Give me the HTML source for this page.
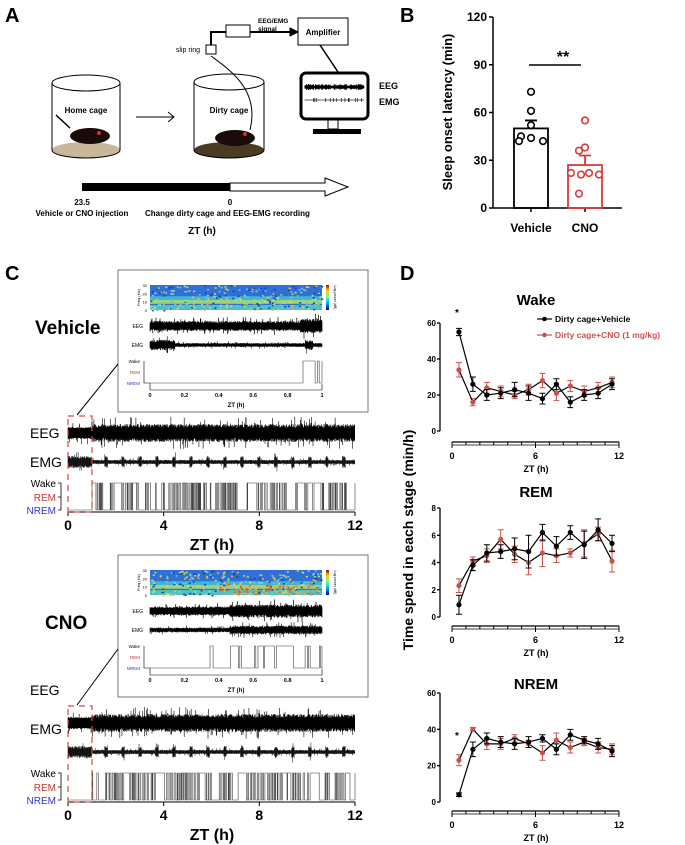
<!DOCTYPE html>
<html><head><meta charset="utf-8"><style>
body{margin:0;background:#fff}
svg{display:block;font-family:"Liberation Sans",Arial,sans-serif}
</style></head><body>
<svg id="fig" width="685" height="845" viewBox="0 0 685 845">
<!-- Panel A -->
<g>
<text x="5" y="22" font-size="20" font-weight="bold">A</text>
<g fill="none" stroke="#000" stroke-width="1">
<ellipse cx="86" cy="150" rx="34" ry="8" fill="#c9b79a" stroke="none"/>
<ellipse cx="86" cy="83" rx="34" ry="8"/>
<line x1="52" y1="83" x2="52" y2="150"/><line x1="120" y1="83" x2="120" y2="150"/>
<path d="M52 150 A34 8 0 0 0 120 150"/>
<ellipse cx="90" cy="136" rx="20" ry="8" fill="#1a0a0a" stroke="none"/>
<circle cx="99" cy="133" r="2" fill="#c33" stroke="none"/>
<line x1="56" y1="115" x2="70" y2="128" stroke-width="1.5"/>
</g>
<text x="86" y="113" font-size="8" font-weight="bold" text-anchor="middle">Home cage</text>
<path d="M136 117 H174 M168 112 L174 117 L168 122" fill="none" stroke="#000"/>
<g fill="none" stroke="#000" stroke-width="1">
<ellipse cx="229" cy="150" rx="35" ry="8" fill="#4a3b22" stroke="none"/>
<ellipse cx="229" cy="82" rx="35" ry="8"/>
<line x1="194" y1="82" x2="194" y2="150"/><line x1="264" y1="82" x2="264" y2="150"/>
<path d="M194 150 A35 8 0 0 0 264 150"/>
<ellipse cx="235" cy="138" rx="20" ry="8" fill="#1a0a0a" stroke="none"/>
<circle cx="245" cy="134" r="2" fill="#c33" stroke="none"/>
<path d="M211 56 C230 70 260 90 250 130"/>
<rect x="206" y="45" width="10" height="9"/>
<path d="M211 45 V32 H290" stroke-width="2"/>
<path d="M290 28 L298 32 L290 36 Z" fill="#000"/>
<rect x="226" y="25" width="24" height="12" fill="#fff"/>
</g>
<text x="200" y="52" font-size="7" text-anchor="end">slip ring</text>
<text x="258" y="23" font-size="6.5" font-weight="bold">EEG/EMG</text>
<text x="258" y="31" font-size="6.5" font-weight="bold">signal</text>
<text x="229" y="113" font-size="8" font-weight="bold" text-anchor="middle">Dirty cage</text>
<rect x="298" y="18" width="50" height="27" fill="#fff" stroke="#000"/>
<text x="323" y="35" font-size="8" font-weight="bold" text-anchor="middle">Amplifier</text>
<path d="M320 45 L338 72" stroke="#000" stroke-width="1.5" fill="none"/>
<rect x="301" y="73" width="67" height="46" rx="5" fill="#fff" stroke="#000" stroke-width="3"/>
<rect x="328" y="119" width="10" height="10" fill="none" stroke="#000"/>
<rect x="313" y="129" width="48" height="5" fill="#000"/>
<path id="monEEG" d="" stroke="#000" stroke-width="1" fill="none"/>
<path id="monEMG" d="" stroke="#000" stroke-width="0.6" fill="none"/>
<text x="379" y="89" font-size="9" font-weight="bold">EEG</text>
<text x="379" y="105" font-size="9" font-weight="bold">EMG</text>
<rect x="82" y="183" width="148" height="8" fill="#000"/>
<path d="M230 183 H325 V178 L348 187 L325 196 V191 H230 Z" fill="#fff" stroke="#000"/>
<text x="82" y="205" font-size="8" font-weight="bold" text-anchor="middle">23.5</text>
<text x="230" y="205" font-size="8" font-weight="bold" text-anchor="middle">0</text>
<text x="82" y="216" font-size="8" font-weight="bold" text-anchor="middle">Vehicle or CNO injection</text>
<text x="145" y="216" font-size="8" font-weight="bold">Change dirty cage and EEG-EMG recording</text>
<text x="202" y="234" font-size="10" font-weight="bold" text-anchor="middle">ZT (h)</text>
</g>
<!-- Panel B -->
<g id="panelB">
<text x="400" y="22" font-size="20" font-weight="bold">B</text>
<text transform="translate(452,112) rotate(-90)" font-size="13" font-weight="bold" text-anchor="middle">Sleep onset latency (min)</text>
<text x="563" y="62" font-size="16" font-weight="bold" text-anchor="middle">**</text>
<line x1="529" y1="65" x2="581" y2="65" stroke="#000" stroke-width="1.5"/>
<text x="531" y="232" font-size="12" font-weight="bold" text-anchor="middle">Vehicle</text>
<text x="585" y="232" font-size="12" font-weight="bold" text-anchor="middle">CNO</text>
</g>
<!-- Panel C -->
<g id="panelC">
<text x="5" y="280" font-size="20" font-weight="bold">C</text>
</g>
<!-- Panel D -->
<g id="panelD">
<text x="400" y="280" font-size="20" font-weight="bold">D</text>
<text transform="translate(413,540) rotate(-90)" font-size="14" font-weight="bold" text-anchor="middle">Time spend in each stage (min/h)</text>
</g>
</svg>
<script>
// Panel B data
const bGroups = ["Vehicle","CNO"];
const bMeans = [50, 27];
const bSems = [5, 6];
const bVehiclePts = [73, 61, 52, 45, 42, 44, 42];
const bCnoPts = [55, 38, 36, 22, 21, 21, 22, 9];
const bTicks = [0, 30, 60, 90, 120];

// Panel D data
const hours = [0.5,1.5,2.5,3.5,4.5,5.5,6.5,7.5,8.5,9.5,10.5,11.5];
const wakeVeh = [55,26,20,21,23,21,18,26,16,20,21,26];
const wakeVehErr = [2,4,3,3,4,4,3,3,3,3,3,3];
const wakeCno = [34,16,24,22,20,23,28,21,25,22,24,27];
const wakeCnoErr = [4,2,3,3,2,3,4,4,3,3,3,3];
const remVeh = [0.9,3.8,4.7,4.8,5.0,4.8,6.2,5.2,6.2,5.3,6.4,5.4];
const remVehErr = [0.7,0.4,0.6,0.5,0.8,1.2,0.6,0.7,0.5,1.0,0.8,0.6];
const remCno = [2.3,4.1,4.5,5.7,4.6,4.0,4.7,4.5,4.7,5.4,6.1,4.1];
const remCnoErr = [0.5,0.3,0.5,0.7,0.6,0.9,1.0,0.5,0.3,1.0,0.5,0.8];
const nremVeh = [4,29,35,33,32,33,35,29,37,34,32,28];
const nremVehErr = [1,4,3,3,3,3,2,3,3,2,3,3];
const nremCno = [23,40,32,32,35,32,27,34,30,33,30,29];
const nremCnoErr = [3,1,3,3,2,2,4,4,3,2,3,3];
const wakeTicks = [0,20,40,60];
const remTicks = [0,2,4,6,8];
const nremTicks = [0,20,40,60];
const xTicks = [0,6,12];

const NS="http://www.w3.org/2000/svg";
function mk(parent, tag, attrs){const e=document.createElementNS(NS,tag);for(const k in attrs)e.setAttribute(k,attrs[k]);parent.appendChild(e);return e;}

// ---------- Panel B ----------
(function(){
 const g=document.getElementById('panelB');
 const y0=208,y1=17,ax=493;
 const ys=v=>y0-(v/120)*(y0-y1);
 mk(g,'line',{x1:ax,y1:y1,x2:ax,y2:y0,stroke:'#000','stroke-width':1.5});
 mk(g,'line',{x1:ax,y1:y0,x2:622,y2:y0,stroke:'#000','stroke-width':1.5});
 bTicks.forEach(t=>{
  mk(g,'line',{x1:ax-4,y1:ys(t),x2:ax,y2:ys(t),stroke:'#000','stroke-width':1.5});
  const tx=mk(g,'text',{x:ax-6,y:ys(t)+4,'font-size':12,'font-weight':'bold','text-anchor':'end'});
  tx.textContent=t;
  
  
 });
 const cx=[531,585], cols=['#000','#d83a3a'];
 const pts=[bVehiclePts,bCnoPts];
 const offs=[[0,0,0,-10,-12,0,12],[0,0,-6,-14,14,-4,4,-6]];
 bGroups.forEach((n,i)=>{
  mk(g,'line',{x1:cx[i],y1:y0,x2:cx[i],y2:y0+4,stroke:'#000','stroke-width':1.5});
  const r=mk(g,'rect',{x:cx[i]-17,y:ys(bMeans[i]),width:34,height:y0-ys(bMeans[i]),fill:'none',stroke:cols[i],'stroke-width':1.8});
  
  
  const e=mk(g,'path',{d:`M${cx[i]} ${ys(bMeans[i])} V${ys(bMeans[i]+bSems[i])} M${cx[i]-6} ${ys(bMeans[i]+bSems[i])} H${cx[i]+6}`,stroke:cols[i],'stroke-width':1.8,fill:'none'});
  
  
  pts[i].forEach((v,j)=>{
   const off=offs[i][j%offs[i].length];
   const c=mk(g,'circle',{cx:cx[i]+off,cy:ys(v),r:3.3,fill:'#fff',stroke:cols[i],'stroke-width':1.6});
   
   
  });
 });
})();

// ---------- Panel D ----------
function lineChart(title, titleY, yTop, yBot, axisY, ymax, ticks, veh, vehE, cno, cnoE, legend, star){
 const g=document.getElementById('panelD');
 const ax=440, x0=452, x1=619;
 const xs=h=>x0+h/12*(x1-x0);
 const ys=v=>yBot-v/ymax*(yBot-yTop);
 const t=mk(g,'text',{x:536,y:titleY,'font-size':15,'font-weight':'bold','text-anchor':'middle'});
 t.textContent=title;
 
 
 mk(g,'line',{x1:ax,y1:yTop,x2:ax,y2:yBot,stroke:'#000','stroke-width':1.3});
 ticks.forEach(v=>{
  mk(g,'line',{x1:ax-3,y1:ys(v),x2:ax,y2:ys(v),stroke:'#000','stroke-width':1.3});
  const tx=mk(g,'text',{x:ax-4,y:ys(v)+3,'font-size':8,'font-weight':'bold','text-anchor':'end'});
  tx.textContent=v;
  
  
 });
 mk(g,'line',{x1:x0,y1:axisY,x2:x1,y2:axisY,stroke:'#000','stroke-width':1.3});
 mk(g,'line',{x1:x0,y1:axisY+3,x2:x1,y2:axisY+3,stroke:'#000','stroke-width':0.8});
 for(let h=0;h<=12;h++) mk(g,'line',{x1:xs(h),y1:axisY,x2:xs(h),y2:axisY+(h%6?3:6),stroke:'#000','stroke-width':1});
 xTicks.forEach(v=>{
  const tx=mk(g,'text',{x:xs(v),y:axisY+17,'font-size':9,'font-weight':'bold','text-anchor':'middle'});
  tx.textContent=v;
  
  
 });
 const xt=mk(g,'text',{x:536,y:axisY+30,'font-size':9,'font-weight':'bold','text-anchor':'middle'});
 xt.textContent='ZT (h)';
 
 
 [[cno,cnoE,'#c9524d'],[veh,vehE,'#000']].forEach(([d,e,c],si)=>{
  d.forEach((v,i)=>{
   const x=xs(hours[i]);
   const eb=mk(g,'path',{d:`M${x} ${ys(v-e[i])} V${ys(v+e[i])} M${x-3} ${ys(v-e[i])} H${x+3} M${x-3} ${ys(v+e[i])} H${x+3}`,stroke:c,'stroke-width':1,fill:'none'});
   
   
  });
  const p=mk(g,'polyline',{points:d.map((v,i)=>xs(hours[i])+','+ys(v)).join(' '),fill:'none',stroke:'#000','stroke-width':1.2});
  
  
  d.forEach((v,i)=>{
   const m=mk(g,'circle',{cx:xs(hours[i]),cy:ys(v),r:2.6,fill:c});
   
   
  });
 });
 if(star){const s=mk(g,'text',{x:xs(0.5)-2,y:star,'font-size':10,'font-weight':'bold','text-anchor':'middle'});s.textContent='*';}
 if(legend){
  [['Dirty cage+Vehicle','#000',322],['Dirty cage+CNO (1 mg/kg)','#c9524d',338]].forEach(([l,c,y])=>{
   mk(g,'line',{x1:537,y1:y-3,x2:552,y2:y-3,stroke:c,'stroke-width':1.2});
   mk(g,'circle',{cx:544.5,cy:y-3,r:2.3,fill:c});
   const tx=mk(g,'text',{x:555,y:y,'font-size':8.5,'font-weight':'bold',fill:c});
   tx.textContent=l;
   
   
  });
 }
}
lineChart('Wake',305,323,431,442,60,wakeTicks,wakeVeh,wakeVehErr,wakeCno,wakeCnoErr,true,316);
lineChart('REM',497,508,617,626,8,remTicks,remVeh,remVehErr,remCno,remCnoErr,false,0);
lineChart('NREM',689,693,802,811,60,nremTicks,nremVeh,nremVehErr,nremCno,nremCnoErr,false,739);

// ---------- Panel C traces (decorative) ----------
let seed=7;function rnd(){seed=(seed*16807)%2147483647;return seed/2147483647;}
function trace(g,x0,x1,yc,amp,step,sw,envFn,name,core){
 let d='';
 for(let x=x0;x<=x1;x+=step){
  const env=envFn(x);
  let up=amp*env*(0.55+0.45*rnd()), dn=amp*env*(0.55+0.45*rnd());
  if(rnd()<0.06){up*=1.8;}
  if(rnd()<0.06){dn*=1.8;}
  up=Math.max(up,core||0);dn=Math.max(dn,core||0);
  d+=`M${x.toFixed(1)} ${(yc-up).toFixed(1)}V${(yc+dn).toFixed(1)}`;
 }
 const p=mk(g,'path',{d:d,stroke:'#000','stroke-width':sw,fill:'none'});
 
 
}
function hypno(g,x0,x1,yW,yN,startX,name,sparse){
 let d=`M${x0} ${yN}`; let x=startX; let st=1;
 if(startX>x0) d=`M${x0} ${yN}H${startX}`;
 d+=`V${yW}`;
 while(x<x1){const w=sparse?(rnd()<0.5?rnd()*15+3:rnd()*2+0.5):(rnd()<0.1?rnd()*8+2:rnd()*1.4+0.3);x=Math.min(x1,x+w);st=1-st;d+=`H${x.toFixed(1)}V${st?yW:yN}`;}
 const p=mk(g,'path',{d:d,stroke:'#444','stroke-width':0.6,fill:'none'});
 
 
}
function spectro(g,x,y,w,h,hot){
 const gr=mk(g,'g',{});
 
 
 mk(gr,'rect',{x:x,y:y,width:w,height:h,fill:'#2f6fd6'});
 mk(gr,'rect',{x:x,y:y+h*0.45,width:w,height:h*0.3,fill:'#3fb6d6'});
 mk(gr,'rect',{x:x,y:y+h*0.6,width:w,height:h*0.15,fill:'#9bd27a'});
 mk(gr,'rect',{x:x,y:y+h*0.8,width:w,height:h*0.2,fill:'#4dc0c8'});
 for(let i=0;i<260;i++){const cx=x+rnd()*w,cy=y+rnd()*h;mk(gr,'rect',{x:cx,y:cy,width:2,height:1.5,fill:['#1b3fb8','#5fd0e8','#b9e07a','#e8c040'][Math.floor(rnd()*4)]});}
 if(hot) for(let i=0;i<120;i++){const cx=x+w*0.4+rnd()*w*0.6,cy=y+h*0.55+rnd()*h*0.4;mk(gr,'rect',{x:cx,y:cy,width:2,height:1.5,fill:rnd()<0.5?'#e25a2a':'#f0b030'});}
 mk(gr,'rect',{x:x+w+4,y:y,width:3,height:h,fill:'url(#cbar)'});
 ['30','20','10','0'].forEach((t,i)=>{const tx=mk(g,'text',{x:x-3,y:y+2+i*h/3,'font-size':4,'text-anchor':'end'});tx.textContent=t;});
 const fl=mk(g,'text',{transform:`translate(${x-10},${y+h/2}) rotate(-90)`,'font-size':4,'text-anchor':'middle'});fl.textContent='Freq (Hz)';
 const lp=mk(g,'text',{transform:`translate(${x+w+12},${y+h/2}) rotate(90)`,'font-size':3.5,'text-anchor':'middle'});lp.textContent='Log power (dB)';
}
const defs=mk(document.getElementById('fig'),'defs',{});
const lg=mk(defs,'linearGradient',{id:'cbar',x1:0,y1:1,x2:0,y2:0});
[['0','#00008f'],['0.3','#00bfff'],['0.55','#7fff7f'],['0.8','#ffbf00'],['1','#8f0000']].forEach(([o,c])=>mk(lg,'stop',{offset:o,'stop-color':c}));

function panelC(off, label, labelX, labelY, hot, sparseInset, eegLabY, emgLabY, mainOff){
 const g=document.getElementById('panelC');
 const sub=mk(g,'g',{});
 
 
 const L=mk(sub,'text',{x:labelX,y:labelY,'font-size':19,'font-weight':'bold'});L.textContent=label;
 
 
 const box=mk(sub,'rect',{x:118,y:270+off,width:250,height:142,fill:'#fff',stroke:'#777','stroke-width':1});
 
 
 spectro(sub,150,285+off,172,25,hot);
 [['EEG',326],['EMG',345]].forEach(([t,y])=>{const tx=mk(sub,'text',{x:143,y:y+off+2,'font-size':5,'text-anchor':'end'});tx.textContent=t;});
 trace(sub,150,322,326+off,5,0.4,0.7,x=>hot?(x>230?1.3:0.9):(x>300?1.4:1),'inset-eeg',3);
 trace(sub,150,322,345+off,4,0.4,0.6,x=>hot?(x>230?1.1:0.6):(x<175||(x>305&&x<313)?1.3:0.5),'inset-emg',1.2);
 [['Wake','#000',361],['REM','#c33',372],['NREM','#33c',383]].forEach(([t,c,y])=>{const tx=mk(sub,'text',{x:140,y:y+off+2,'font-size':4.5,fill:c,'text-anchor':'end'});tx.textContent=t;});
 mk(sub,'path',{d:`M144 ${361+off}V${383+off}H150V${390+off}H322V${384+off}`,stroke:'#000','stroke-width':0.6,fill:'none'});
 hypno(sub,150,322,361+off,383+off,hot?210:303,'inset-hypnogram',true);
 [0,0.2,0.4,0.6,0.8,1].forEach((v,i)=>{const tx=mk(sub,'text',{x:150+v*172,y:397+off,'font-size':5.5,'font-weight':'bold','text-anchor':'middle'});tx.textContent=v;});
 const zt=mk(sub,'text',{x:236,y:407+off,'font-size':6,'font-weight':'bold','text-anchor':'middle'});zt.textContent='ZT (h)';
 mk(sub,'line',{x1:118,y1:364+off,x2:77,y2:415+mainOff,stroke:'#000','stroke-width':1});
 const mo=mainOff;
 const e1=mk(sub,'text',{x:30,y:eegLabY,'font-size':14});e1.textContent='EEG';
 
 const e2=mk(sub,'text',{x:30,y:emgLabY,'font-size':14});e2.textContent='EMG';
 
 trace(sub,68,355,433+mo,9,0.35,0.6,x=>x<92?0.7:1,'main-eeg',5);
 trace(sub,68,355,462+mo,6,0.35,0.5,x=>x<92?1:(Math.sin(x*0.37)>0.85?1:0.35),'main-emg',1.5);
 [['Wake','#000',483],['REM','#c33',497],['NREM','#33c',510]].forEach(([t,c,y])=>{const tx=mk(sub,'text',{x:56,y:y+mo+4,'font-size':10,fill:c,'text-anchor':'end'});tx.textContent=t;});
 mk(sub,'path',{d:`M58 ${483+mo}H61V${510+mo}H58M58 ${497+mo}H61`,stroke:'#000','stroke-width':0.8,fill:'none'});
 mk(sub,'line',{x1:68,y1:512+mo,x2:355,y2:512+mo,stroke:'#000','stroke-width':1});
 [0,4,8,12].forEach(v=>{mk(sub,'line',{x1:68+v/12*287,y1:512+mo,x2:68+v/12*287,y2:516+mo,stroke:'#000'});const tx=mk(sub,'text',{x:68+v/12*287,y:530+mo,'font-size':14,'font-weight':'bold','text-anchor':'middle'});tx.textContent=v;});
 const zx=mk(sub,'text',{x:212,y:550+mo,'font-size':16,'font-weight':'bold','text-anchor':'middle'});zx.textContent='ZT (h)';
 
 hypno(sub,68,355,483+mo,510+mo,92,'main-hypnogram',false);
 const rb=mk(sub,'rect',{x:68,y:416+mo,width:24,height:96,fill:'none',stroke:'#d44','stroke-width':1.2,'stroke-dasharray':'6 5'});
 
}
panelC(0,'Vehicle',35,334,false,true,438,467,0);
panelC(285,'CNO',45,629,true,false,695,734,290);

// monitor signals
(function(){let d1='',d2='';for(let x=305;x<=364;x+=0.7){const a=1+rnd()*2;d1+=`M${x} ${87-a}V${87+a}`;const b=rnd()<0.2?2:0.4;d2+=`M${x} ${100-b}V${100+b}`;}
document.getElementById('monEEG').setAttribute('d',d1);document.getElementById('monEMG').setAttribute('d',d2);})();
</script>
</body></html>
